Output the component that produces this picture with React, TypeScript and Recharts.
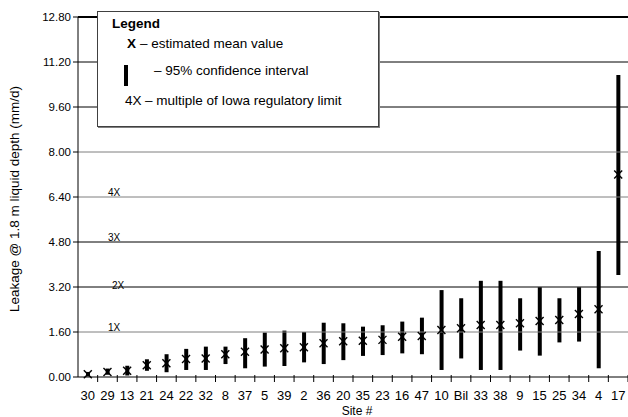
import React from 'react';
import {
  ComposedChart,
  Bar,
  Line,
  XAxis,
  YAxis,
  ReferenceLine,
} from 'recharts';

// sites, sorted by estimated mean leakage
const SITES = ['30', '29', '13', '21', '24', '22', '32', '8', '37', '5', '39', '2', '36', '20', '35', '23', '16', '47', '10', 'Bil', '33', '38', '9', '15', '25', '34', '4', '17'];
const MEAN = [0.1, 0.18, 0.22, 0.42, 0.49, 0.64, 0.66, 0.81, 0.9, 0.98, 1.02, 1.06, 1.2, 1.27, 1.29, 1.32, 1.43, 1.46, 1.67, 1.73, 1.85, 1.85, 1.91, 1.99, 2.03, 2.24, 2.41, 7.2];
const CI_LOW = [0.02, 0.08, 0.05, 0.22, 0.17, 0.25, 0.25, 0.46, 0.31, 0.37, 0.39, 0.52, 0.46, 0.6, 0.75, 0.78, 0.84, 0.81, 0.25, 0.66, 0.25, 0.25, 0.94, 0.76, 1.23, 1.26, 0.31, 3.63];
const CI_HIGH = [0.18, 0.3, 0.4, 0.63, 0.81, 1.0, 1.08, 1.08, 1.38, 1.58, 1.65, 1.6, 1.93, 1.91, 1.79, 1.84, 1.97, 2.11, 3.09, 2.8, 3.42, 3.42, 2.8, 3.19, 2.8, 3.19, 4.48, 10.74];

const Y_TICKS = [0, 1.6, 3.2, 4.8, 6.4, 8.0, 9.6, 11.2, 12.8];
const IOWA_LIMIT = 1.6;
const MULTIPLES = ['1X', '2X', '3X', '4X'];

const data = SITES.map((site, i) => ({
  site,
  mean: MEAN[i],
  ci: [CI_LOW[i], CI_HIGH[i]],
}));

const FONT = "'Liberation Sans', Arial, Helvetica, sans-serif";
const W = 628;
const H = 417;
const Y_AXIS_W = 78;
const X_AXIS_H = 40;
const BAND = (W - Y_AXIS_W) / SITES.length;

// the original mixes black and grey rules
const gridStyle = (v: number) => {
  if (v === 12.8) return { stroke: '#000', width: 2 };
  if (v === 8.0 || v === 6.4 || v === 1.6) return { stroke: '#7f7f7f', width: 1 };
  return { stroke: '#000', width: 1 };
};

// small nudges so the multiple labels sit like the original
const MULT_NUDGE = [
  { dx: 0, dy: 0 },
  { dx: 4, dy: 3 },
  { dx: 0, dy: 0 },
  { dx: 0, dy: 0 },
];

const MeanMark = (props: any) => {
  const { cx, cy, index } = props;
  if (cx == null || cy == null) return null;
  const s = 4;
  return (
    <g key={`m-${index}`}>
      <line x1={cx - s} y1={cy - s} x2={cx + s} y2={cy + s} stroke="#000" strokeWidth={1.4} />
      <line x1={cx - s} y1={cy + s} x2={cx + s} y2={cy - s} stroke="#000" strokeWidth={1.4} />
    </g>
  );
};

const SiteTick = (props: any) => {
  const { x, y, payload } = props;
  return (
    <g>
      <line x1={x + BAND / 2} x2={x + BAND / 2} y1={y - 4} y2={y + 3} stroke="#000" />
      <text x={x} y={y + 21} textAnchor="middle" fontSize={13} fontFamily={FONT} fill="#000">
        {payload.value}
      </text>
    </g>
  );
};

const YTitle = () => (
  <text
    x={14}
    y={199}
    transform="rotate(-90 14 199)"
    textAnchor="middle"
    dominantBaseline="central"
    fontSize={13.5}
    fontFamily={FONT}
    fill="#000"
  >
    Leakage @ 1.8 m liquid depth (mm/d)
  </text>
);

const XTitle = () => (
  <text x={357} y={415} textAnchor="middle" fontSize={12} fontFamily={FONT} fill="#000">
    Site #
  </text>
);

const legendText: React.CSSProperties = {
  position: 'absolute',
  whiteSpace: 'pre',
  fontSize: 13.5,
  lineHeight: '14px',
  fontFamily: FONT,
  color: '#000',
};

const LegendBox = () => (
  <div
    style={{
      position: 'absolute',
      left: 97,
      top: 11,
      width: 280,
      height: 114,
      background: '#fff',
      border: '1px solid #404040',
      boxShadow: '1px 1px 0 #808080',
    }}
  >
    <span style={{ ...legendText, left: 14, top: 5, fontWeight: 'bold' }}>Legend</span>
    <span style={{ ...legendText, left: 29, top: 25, fontWeight: 'bold' }}>X</span>
    <span style={{ ...legendText, left: 42, top: 25 }}>– estimated mean value</span>
    <div style={{ position: 'absolute', left: 26, top: 53, width: 4, height: 21, background: '#000' }} />
    <span style={{ ...legendText, left: 56, top: 52 }}>– 95% confidence interval</span>
    <span style={{ ...legendText, left: 27, top: 82 }}>4X</span>
    <span style={{ ...legendText, left: 47, top: 82 }}>– multiple of Iowa regulatory limit</span>
  </div>
);

export default function App() {
  return (
    <div style={{ position: 'absolute', left: 0, top: 0, width: W, height: H, overflow: 'hidden', background: '#fff' }}>
      <ComposedChart width={W} height={H} data={data} margin={{ top: 17, right: 0, bottom: 0, left: 0 }}>
        <XAxis
          dataKey="site"
          interval={0}
          height={X_AXIS_H}
          tickSize={0}
          tickLine={false}
          axisLine={{ stroke: '#000' }}
          tick={<SiteTick />}
          label={{ content: <XTitle /> }}
        />
        <YAxis
          type="number"
          domain={[0, 12.8]}
          ticks={Y_TICKS}
          interval={0}
          width={Y_AXIS_W}
          tickSize={5}
          tickLine={{ stroke: '#000' }}
          axisLine={{ stroke: '#000' }}
          tickFormatter={(v: number) => v.toFixed(2)}
          tick={{ fontSize: 11.5, fontFamily: FONT, fill: '#000' }}
          label={{ content: <YTitle /> }}
        />
        {Y_TICKS.filter((v) => v > 0).map((v) => {
          const g = gridStyle(v);
          return <ReferenceLine key={`g-${v}`} y={v} stroke={g.stroke} strokeWidth={g.width} />;
        })}
        {MULTIPLES.map((m, i) => (
          <ReferenceLine
            key={`mult-${m}`}
            y={IOWA_LIMIT * (i + 1)}
            stroke="none"
            label={{
              content: (p: any) => (
                <text
                  x={p.viewBox.x + 30 + MULT_NUDGE[i].dx}
                  y={p.viewBox.y - 1 + MULT_NUDGE[i].dy}
                  fontSize={10}
                  fontFamily={FONT}
                  fill="#000"
                >
                  {m}
                </text>
              ),
            }}
          />
        ))}
        <Bar dataKey="ci" fill="#000" barSize={4} isAnimationActive={false} />
        <Line
          dataKey="mean"
          stroke="none"
          dot={MeanMark}
          activeDot={false}
          isAnimationActive={false}
        />
      </ComposedChart>
      <LegendBox />
    </div>
  );
}
